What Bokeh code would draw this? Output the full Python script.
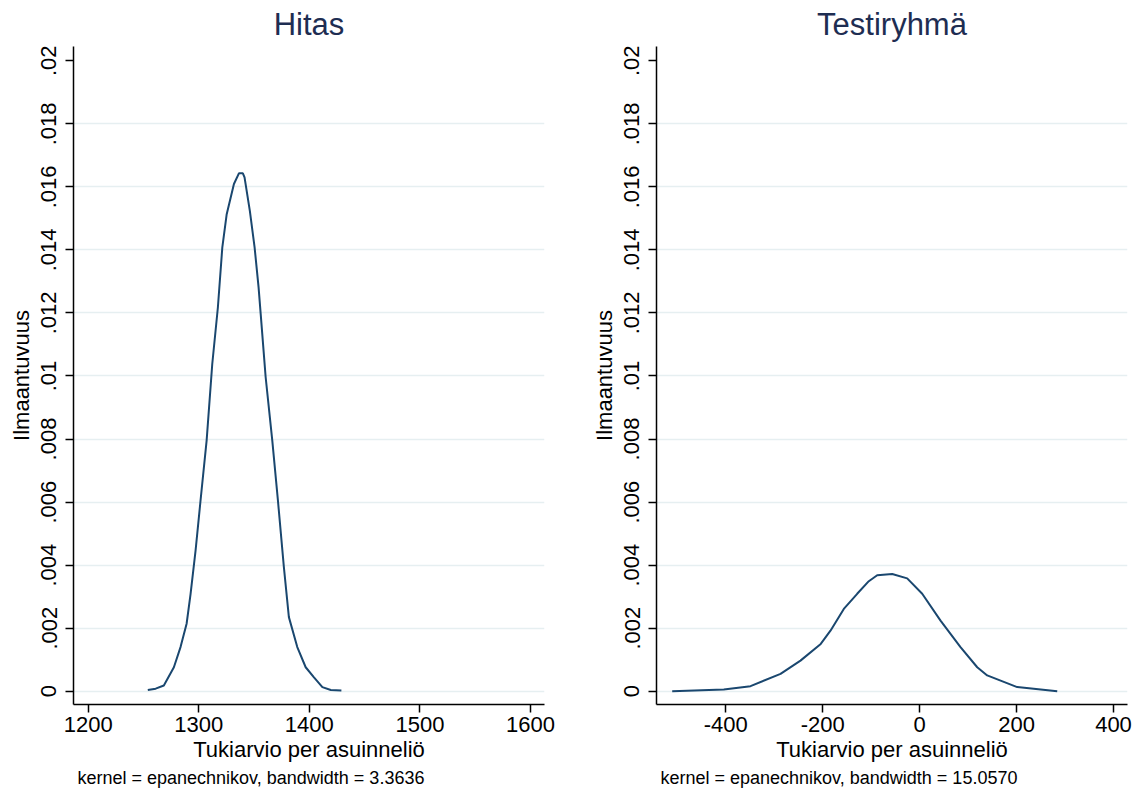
from bokeh.plotting import figure
from bokeh.models import FixedTicker, Range1d, Title
from bokeh.layouts import row
from bokeh.embed import file_html
from bokeh.resources import INLINE

# ---- data ----
hitas_x = [1253.9, 1261.0, 1268.4, 1277.5, 1283.5, 1289.0, 1292.6, 1297.1, 1301.6, 1307.1,
           1312.2, 1317.3, 1321.3, 1325.2, 1331.8, 1336.3, 1339.9, 1341.4, 1346.2,
           1350.5, 1354.1, 1356.0, 1360.5, 1366.5, 1371.6, 1377.0, 1381.5, 1389.1,
           1396.7, 1404.2, 1411.8, 1419.4, 1429.0]
hitas_y = [0.00004, 0.00008, 0.00018, 0.00076, 0.0014, 0.00214, 0.00309, 0.00446, 0.00605, 0.00795,
           0.01038, 0.01218, 0.01408, 0.01512, 0.01609, 0.01643, 0.01643, 0.0163, 0.01524,
           0.01408, 0.01281, 0.01197, 0.00996, 0.00795, 0.00605, 0.00393, 0.00235, 0.0014,
           0.00076, 0.00044, 0.00013, 0.00004, 0.00002]

test_x = [-510.6, -404.1, -349.0, -287.1, -245.9, -204.1, -184.0, -156.5, -128.9,
          -104.9, -87.6, -56.6, -25.7, 5.3, 43.1, 84.3, 118.8, 139.4, 201.3, 283.9]
test_y = [0.0, 0.000054, 0.00016, 0.00055, 0.00097, 0.0015, 0.00192, 0.00261, 0.00309,
          0.00349, 0.00368, 0.00372, 0.00358, 0.00309, 0.00224, 0.0014, 0.00076, 0.0005,
          0.00013, 0.0]

y_ticks = [0, 0.002, 0.004, 0.006, 0.008, 0.01, 0.012, 0.014, 0.016, 0.018, 0.02]
y_tick_labels = ["0", ".002", ".004", ".006", ".008", ".01", ".012", ".014", ".016", ".018", ".02"]
hitas_xticks = [1200, 1300, 1400, 1500, 1600]
hitas_xtick_labels = ["1200", "1300", "1400", "1500", "1600"]
test_xticks = [-400, -200, 0, 200, 400]
test_xtick_labels = ["-400", "-200", "0", "200", "400"]

titles = ["Hitas", "Testiryhmä"]
x_title = "Tukiarvio per asuinneliö"
y_title = "Ilmaantuvuus"
notes = ["kernel = epanechnikov, bandwidth = 3.3636",
         "kernel = epanechnikov, bandwidth = 15.0570"]

FONT = "Liberation Sans"
LINE_COLOR = "#1a476f"
TITLE_COLOR = "#1e2d52"
GRID_COLOR = "#e6eff1"


def make_panel(xs, ys, xr, xticks, xlabels, title, note, width, mb_left, mb_right):
    p = figure(width=width, height=794, output_backend="svg", toolbar_location=None,
               x_range=Range1d(*xr), y_range=Range1d(-0.000422, 0.020453),
               min_border_left=mb_left, min_border_right=mb_right,
               min_border_top=46, min_border_bottom=90)
    p.outline_line_color = None
    p.background_fill_color = "white"
    p.border_fill_color = "white"

    p.title.text = title
    p.title.align = "center"
    p.title.text_font = FONT
    p.title.text_font_size = "31px"
    p.title.text_font_style = "normal"
    p.title.text_color = TITLE_COLOR
    p.title.standoff = 9

    p.add_layout(Title(text=note, align="left", text_font=FONT, text_font_size="18px",
                       text_font_style="normal", text_color="black", offset=4, standoff=2),
                 "below")

    p.line(xs, ys, line_color=LINE_COLOR, line_width=2)

    p.xgrid.visible = False
    p.ygrid.ticker = FixedTicker(ticks=y_ticks[:-1])
    p.ygrid.grid_line_color = GRID_COLOR
    p.ygrid.grid_line_width = 1.5

    xa = p.xaxis[0]
    xa.ticker = FixedTicker(ticks=xticks)
    xa.major_label_overrides = dict(zip(xticks, xlabels))
    xa.axis_label = x_title
    xa.axis_label_text_font = FONT
    xa.axis_label_text_font_size = "22px"
    xa.axis_label_text_font_style = "normal"
    xa.axis_label_text_color = "black"
    xa.axis_label_standoff = 2
    xa.major_label_text_font = FONT
    xa.major_label_text_font_size = "22px"
    xa.major_label_text_color = "black"
    xa.major_label_standoff = 4
    xa.major_tick_out = 8
    xa.major_tick_in = 0
    xa.minor_tick_out = 0
    xa.minor_tick_in = 0
    xa.axis_line_width = 1.5
    xa.major_tick_line_width = 1.5
    xa.axis_line_color = "black"
    xa.major_tick_line_color = "black"

    ya = p.yaxis[0]
    ya.ticker = FixedTicker(ticks=y_ticks)
    ya.major_label_overrides = dict(zip(y_ticks, y_tick_labels))
    ya.major_label_orientation = "vertical"
    ya.axis_label = y_title
    ya.axis_label_text_font = FONT
    ya.axis_label_text_font_size = "22px"
    ya.axis_label_text_font_style = "normal"
    ya.axis_label_text_color = "black"
    ya.axis_label_standoff = 5
    ya.major_label_text_font = FONT
    ya.major_label_text_font_size = "22px"
    ya.major_label_text_color = "black"
    ya.major_label_standoff = 9
    ya.major_tick_out = 8
    ya.major_tick_in = 0
    ya.minor_tick_out = 0
    ya.minor_tick_in = 0
    ya.axis_line_width = 1.5
    ya.major_tick_line_width = 1.5
    ya.axis_line_color = "black"
    ya.major_tick_line_color = "black"
    return p


p1 = make_panel(hitas_x, hitas_y, (1186.7, 1612.7), hitas_xticks, hitas_xtick_labels,
                titles[0], notes[0], 560, 73, 16)
p2 = make_panel(test_x, test_y, (-543.0, 428.9), test_xticks, test_xtick_labels,
                titles[1], notes[1], 577, 96, 10)

layout = row(p1, p2)
open("out.html", "w").write(file_html(layout, INLINE))
